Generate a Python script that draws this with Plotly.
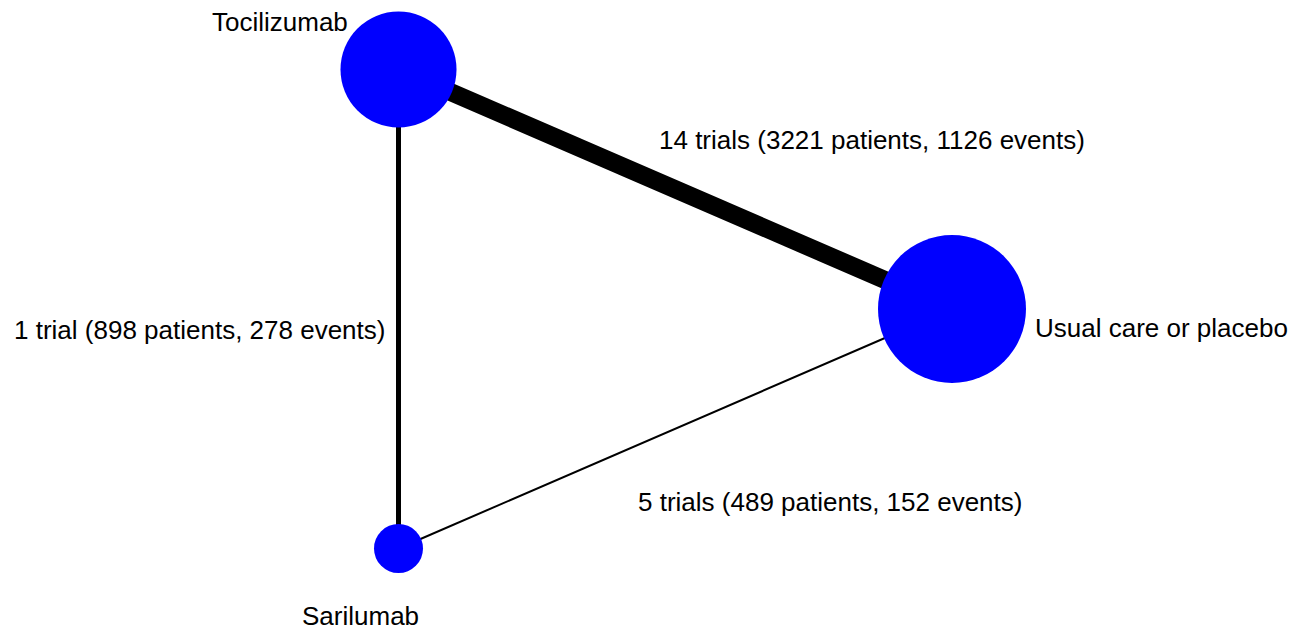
import plotly.graph_objects as go

# Data
nodes = ["Tocilizumab", "Usual care or placebo", "Sarilumab"]
node_diam = [116, 148, 49]  # marker diameter (px) proportional to sample
edges_from = ["Tocilizumab", "Tocilizumab", "Sarilumab"]
edges_to = ["Usual care or placebo", "Sarilumab", "Usual care or placebo"]
edge_trials = [14, 1, 5]
edge_patients = [3221, 898, 489]
edge_events = [1126, 278, 152]
edge_width = [18, 5, 2]

# Layout positions (pixel-like coordinate system of the page)
pos = {"Tocilizumab": (398.5, 69.5), "Usual care or placebo": (952, 309), "Sarilumab": (398.5, 548.5)}
node_label_pos = {"Tocilizumab": (350, 22, "right"),
                  "Usual care or placebo": (1033, 328, "left"),
                  "Sarilumab": (360, 616, "center")}
edge_label_pos = [(872, 140), (199, 330), (830, 502)]

fig = go.Figure()
for a, b, w in zip(edges_from, edges_to, edge_width):
    fig.add_trace(go.Scatter(x=[pos[a][0], pos[b][0]], y=[pos[a][1], pos[b][1]],
                             mode="lines", line=dict(color="black", width=w),
                             hoverinfo="skip", showlegend=False))
fig.add_trace(go.Scatter(x=[pos[n][0] for n in nodes], y=[pos[n][1] for n in nodes],
                         mode="markers",
                         marker=dict(size=node_diam, color="#0000ff", opacity=1, line=dict(width=0)),
                         text=nodes, showlegend=False))

font = dict(family="Liberation Sans, Arial, sans-serif", size=26, color="black")
for n in nodes:
    x, y, anc = node_label_pos[n]
    fig.add_annotation(x=x, y=y, text=n, showarrow=False, xanchor=anc, yanchor="middle", font=font)
for (x, y), t, p, e in zip(edge_label_pos, edge_trials, edge_patients, edge_events):
    word = "trial" if t == 1 else "trials"
    fig.add_annotation(x=x, y=y, text=f"{t} {word} ({p} patients, {e} events)", showarrow=False,
                       xanchor="center", yanchor="middle", font=font)

fig.update_layout(width=1308, height=630, margin=dict(l=0, r=0, t=0, b=0),
                  plot_bgcolor="white", paper_bgcolor="white",
                  xaxis=dict(range=[0, 1308], visible=False, fixedrange=True),
                  yaxis=dict(range=[630, 0], visible=False, fixedrange=True))
fig.write_html("out.html", config={"displayModeBar": False},
               post_script="document.body.style.margin='0';document.body.style.overflow='hidden';")
